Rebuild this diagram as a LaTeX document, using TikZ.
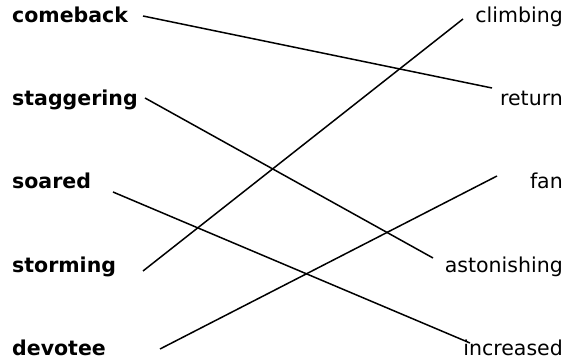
\documentclass[tikz,border=0pt]{standalone}
\usepackage{fontspec}
\setmainfont{DejaVu Sans}
\usetikzlibrary{positioning}

\begin{document}
\begin{tikzpicture}[x=1pt,y=-1pt]

\tikzset{leftword/.style = {anchor=base west,inner sep=0pt,font=\fontsize{20.5}{24}\selectfont\bfseries}}
\tikzset{rightword/.style = {anchor=base east,inner sep=0pt,font=\fontsize{20.5}{24}\selectfont}}
\tikzset{match/.style = {line width=1.5pt}}
\useasboundingbox (0,0) rectangle (571,363);
% left words
\node[leftword] (comeback) at (12,23) {comeback};
\node[leftword] (staggering) at (12,106) {staggering};
\node[leftword] (soared) at (12,189) {soared};
\node[leftword] (storming) at (12,273) {storming};
\node[leftword] (devotee) at (12,356) {devotee};
% right words
\node[rightword] (climbing) at (563,23) {climbing};
\node[rightword] (return) at (563,106) {return};
\node[rightword] (fan) at (563,189) {fan};
\node[rightword] (astonishing) at (563,273) {astonishing};
\node[rightword] (increased) at (563,356) {increased};
% line ends
\coordinate (comeback-e) at (143,16);
\coordinate (staggering-e) at (145,98);
\coordinate (soared-e) at (113,192);
\coordinate (storming-e) at (143,271);
\coordinate (devotee-e) at (160,349);
\coordinate (climbing-w) at (463,19);
\coordinate (return-w) at (492,88);
\coordinate (fan-w) at (497,176);
\coordinate (astonishing-w) at (433,258);
\coordinate (increased-w) at (470,343);
%lines
\draw [match] (comeback-e) -- (return-w);
\draw [match] (staggering-e) -- (astonishing-w);
\draw [match] (soared-e) -- (increased-w);
\draw [match] (storming-e) -- (climbing-w);
\draw [match] (devotee-e) -- (fan-w);
\end{tikzpicture}
\end{document}
